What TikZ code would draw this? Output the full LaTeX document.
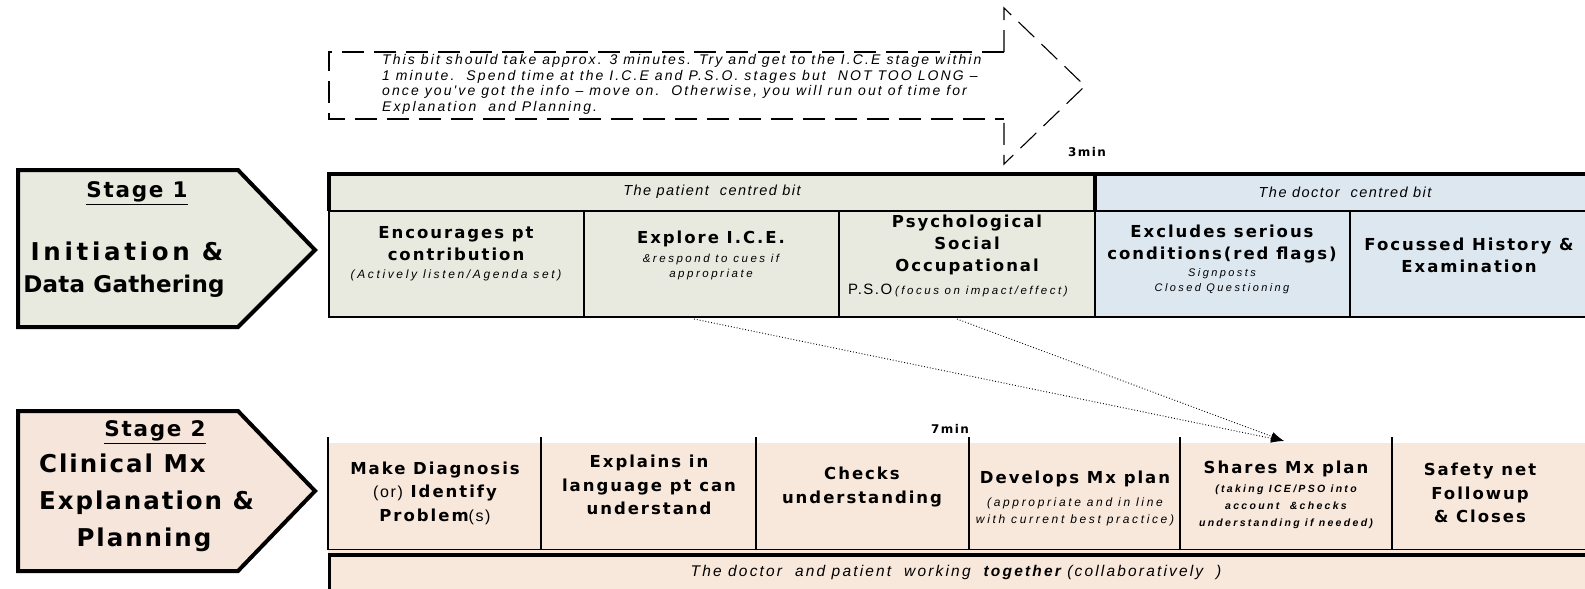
\documentclass[tikz,border=0pt]{standalone}
\usepackage{fontspec}
\setmainfont{Liberation Sans}
\newfontfamily\hbf{DejaVu Sans}[LetterSpace=12]
\newfontfamily\stf{DejaVu Sans}[LetterSpace=8]
\newfontfamily\stw{DejaVu Sans}[LetterSpace=15]
\newfontfamily\stz{DejaVu Sans}[LetterSpace=1]
\newfontfamily\itf{Liberation Sans}[LetterSpace=10]
\newfontfamily\btf{Liberation Sans}[LetterSpace=14]
\newfontfamily\dtf{Liberation Sans}[LetterSpace=15]
\newfontfamily\smf{Liberation Sans}[LetterSpace=22]
\usetikzlibrary{arrows.meta}
\definecolor{sone}{RGB}{233,234,223}
\definecolor{doc}{RGB}{221,231,240}
\definecolor{peach}{RGB}{248,231,219}
\definecolor{stwo}{RGB}{246,229,218}
\begin{document}
\begin{tikzpicture}[x=1pt,y=-1pt,
  stagebox/.style={draw=black,line width=4pt,line join=miter},
  stagelabel/.style={font=\stf\bfseries\fontsize{24.5}{35.5}\selectfont,align=center,inner sep=0pt},
  stagetitle/.style={font=\stf\bfseries\fontsize{21.5}{24}\selectfont,inner sep=0pt},
  cellhead/.style={font=\hbf\bfseries\fontsize{16.5}{22}\selectfont,align=center,inner sep=0pt},
  cellhead2/.style={font=\hbf\bfseries\fontsize{16.5}{23.5}\selectfont,align=center,inner sep=0pt},
  cellnote/.style={font=\smf\itshape\fontsize{12}{16.5}\selectfont,align=center,inner sep=0pt},
  hdr/.style={font=\itf\itshape\fontsize{14.5}{18}\selectfont,inner sep=0pt},
  timelbl/.style={font=\hbf\bfseries\fontsize{12}{14}\selectfont,inner sep=0pt},
  thinrule/.style={line width=1.3pt},
  thickrule/.style={line width=3.2pt},
  dashbox/.style={line width=1.1pt,dash pattern=on 22pt off 10pt},
  dotarrow/.style={line width=0.9pt,dotted,-{Latex[length=13pt,width=9pt]}}
]
\useasboundingbox (0,0) rectangle (1585,589);

% ---------- dashed arrow with note ----------
\draw[dashbox] (1004,52) -- (329,52) -- (329,119) -- (1004,119);
\draw[dashbox] (1004,52) -- (1004,8) -- (1085,86) -- (1004,164) -- (1004,119);
\node[font=\dtf\itshape\fontsize{14}{15.5}\selectfont,align=left,anchor=north west,inner sep=0pt] (note) at (382,54.5)
{This bit should take approx. 3 minutes. Try and get to the I.C.E stage within\\
1 minute.\ \ Spend time at the I.C.E and P.S.O. stages but\ \ NOT TOO LONG –\\
once you've got the info – move on.\ \ Otherwise, you will run out of time for\\
Explanation\ \ and Planning.};
\node[timelbl] (t3) at (1087,152) {3min};

% ---------- Stage 1 arrow ----------
\draw[stagebox,fill=sone] (18,170) -- (238,170) -- (315,250) -- (238,327) -- (18,327) -- cycle;
\node[stagetitle] (s1t) at (137,193) {\underline{Stage 1}};
\node[stagelabel,font=\stw\bfseries\fontsize{24.5}{30}\selectfont] (s1a) at (127,251) {Initiation \&};
\node[stagelabel,font=\stz\bfseries\fontsize{23}{30}\selectfont] (s1b) at (124,286) {Data Gathering};

% ---------- Stage 1 table ----------
\path[fill=sone] (329,174) rectangle (1095,317);
\path[fill=doc] (1095,174) rectangle (1590,317);
\draw[thinrule] (329,211) -- (329,317) -- (1590,317);
\foreach \xx in {584,839,1095,1350} \draw[thinrule] (\xx,211) -- (\xx,317);
\draw[line width=2.6pt] (329,211) -- (1590,211);
\draw[thickrule] (1590,174) -- (329,174) -- (329,211);
\draw[thickrule] (1095,174) -- (1095,211);
\node[hdr] (pc) at (712,192) {The patient\ \ centred bit};
\node[hdr] (dc) at (1345,192) {The doctor\ \ centred bit};

\node[cellhead] (a1) at (456,244) {Encourages pt\\contribution};
\node[cellnote] (a1n) at (456,275) {(Actively listen/Agenda set)};
\node[cellhead] (a2) at (711,239) {Explore I.C.E.};
\node[cellnote,font=\smf\itshape\fontsize{11.5}{15}\selectfont] (a2n) at (711,267) {\&respond to cues if\\appropriate};
\node[cellhead] (a3) at (967,245) {Psychological\\Social\\Occupational};
\node[anchor=west,inner sep=0pt] (a3n) at (848,290) {{\itf\fontsize{15}{18}\selectfont P.S.O}\ {\smf\itshape\fontsize{11.5}{14}\selectfont (focus on impact/effect)}};
\node[cellhead] (a4) at (1222,244) {Excludes serious\\conditions(red flags)};
\node[cellnote,font=\smf\itshape\fontsize{11}{15}\selectfont] (a4n) at (1222,281.5) {Signposts\\Closed Questioning};
\node[cellhead] (a5) at (1469,255) {Focussed History \&\\Examination};

% ---------- dotted arrows ----------
\coordinate (fromice) at (694,319);
\coordinate (frompso) at (957,319);
\coordinate (toshare) at (1284,441);
\draw[dotarrow] (fromice) -- (toshare);
\draw[dotarrow] (frompso) -- (toshare);
\node[timelbl] (t7) at (950,429) {7min};

% ---------- Stage 2 arrow ----------
\draw[stagebox,fill=stwo] (18,411) -- (238,411) -- (315,491) -- (238,571) -- (18,571) -- cycle;
\node[stagetitle] (s2t) at (155,432) {\underline{Stage 2}};
\node[stagelabel,anchor=west] (s2a) at (39,463) {Clinical Mx};
\node[stagelabel,anchor=west] (s2b) at (39,503) {Explanation \&};
\node[stagelabel] (s2c) at (144,540) {Planning};

% ---------- Stage 2 table ----------
\path[fill=peach] (328,443) rectangle (1590,589);
\foreach \xx in {328,756,1180} \draw[thinrule] (\xx,437) -- (\xx,550);
\foreach \xx in {541,969,1392} \draw[line width=2.2pt] (\xx,437) -- (\xx,550);
\draw[thinrule] (328,549.5) -- (1590,549.5);
\draw[thickrule] (1590,555) -- (329.6,555) -- (329.6,589);

\node[cellhead2] (b1) at (435,493) {Make Diagnosis\\{\mdseries\itf\fontsize{16}{22}\selectfont(or)} Identify\\Problem{\mdseries\itf\fontsize{16}{22}\selectfont(s)}};
\node[cellhead2] (b2) at (649,485) {Explains in\\language pt can\\understand};
\node[cellhead2] (b3) at (862,487) {Checks\\understanding};
\node[cellhead] (b4) at (1075,479) {Develops Mx plan};
\node[cellnote] (b4n) at (1075,512) {(appropriate and in line\\with current best practice)};
\node[cellhead] (b5) at (1286,469) {Shares Mx plan};
\node[cellnote,font=\smf\bfseries\itshape\fontsize{10.5}{17}\selectfont] (b5n) at (1286,507) {(taking ICE/PSO into\\account\ \ \&checks\\understanding if needed)};
\node[cellhead2] (b6) at (1480,493) {Safety net\\Followup\\\& Closes};

\node[font=\btf\itshape\fontsize{15.5}{18}\selectfont,inner sep=0pt] (bar) at (956,572) {The doctor\ \ and patient\ \ working\ \ {\bfseries together} (collaboratively\ \ )};
\end{tikzpicture}
\end{document}
